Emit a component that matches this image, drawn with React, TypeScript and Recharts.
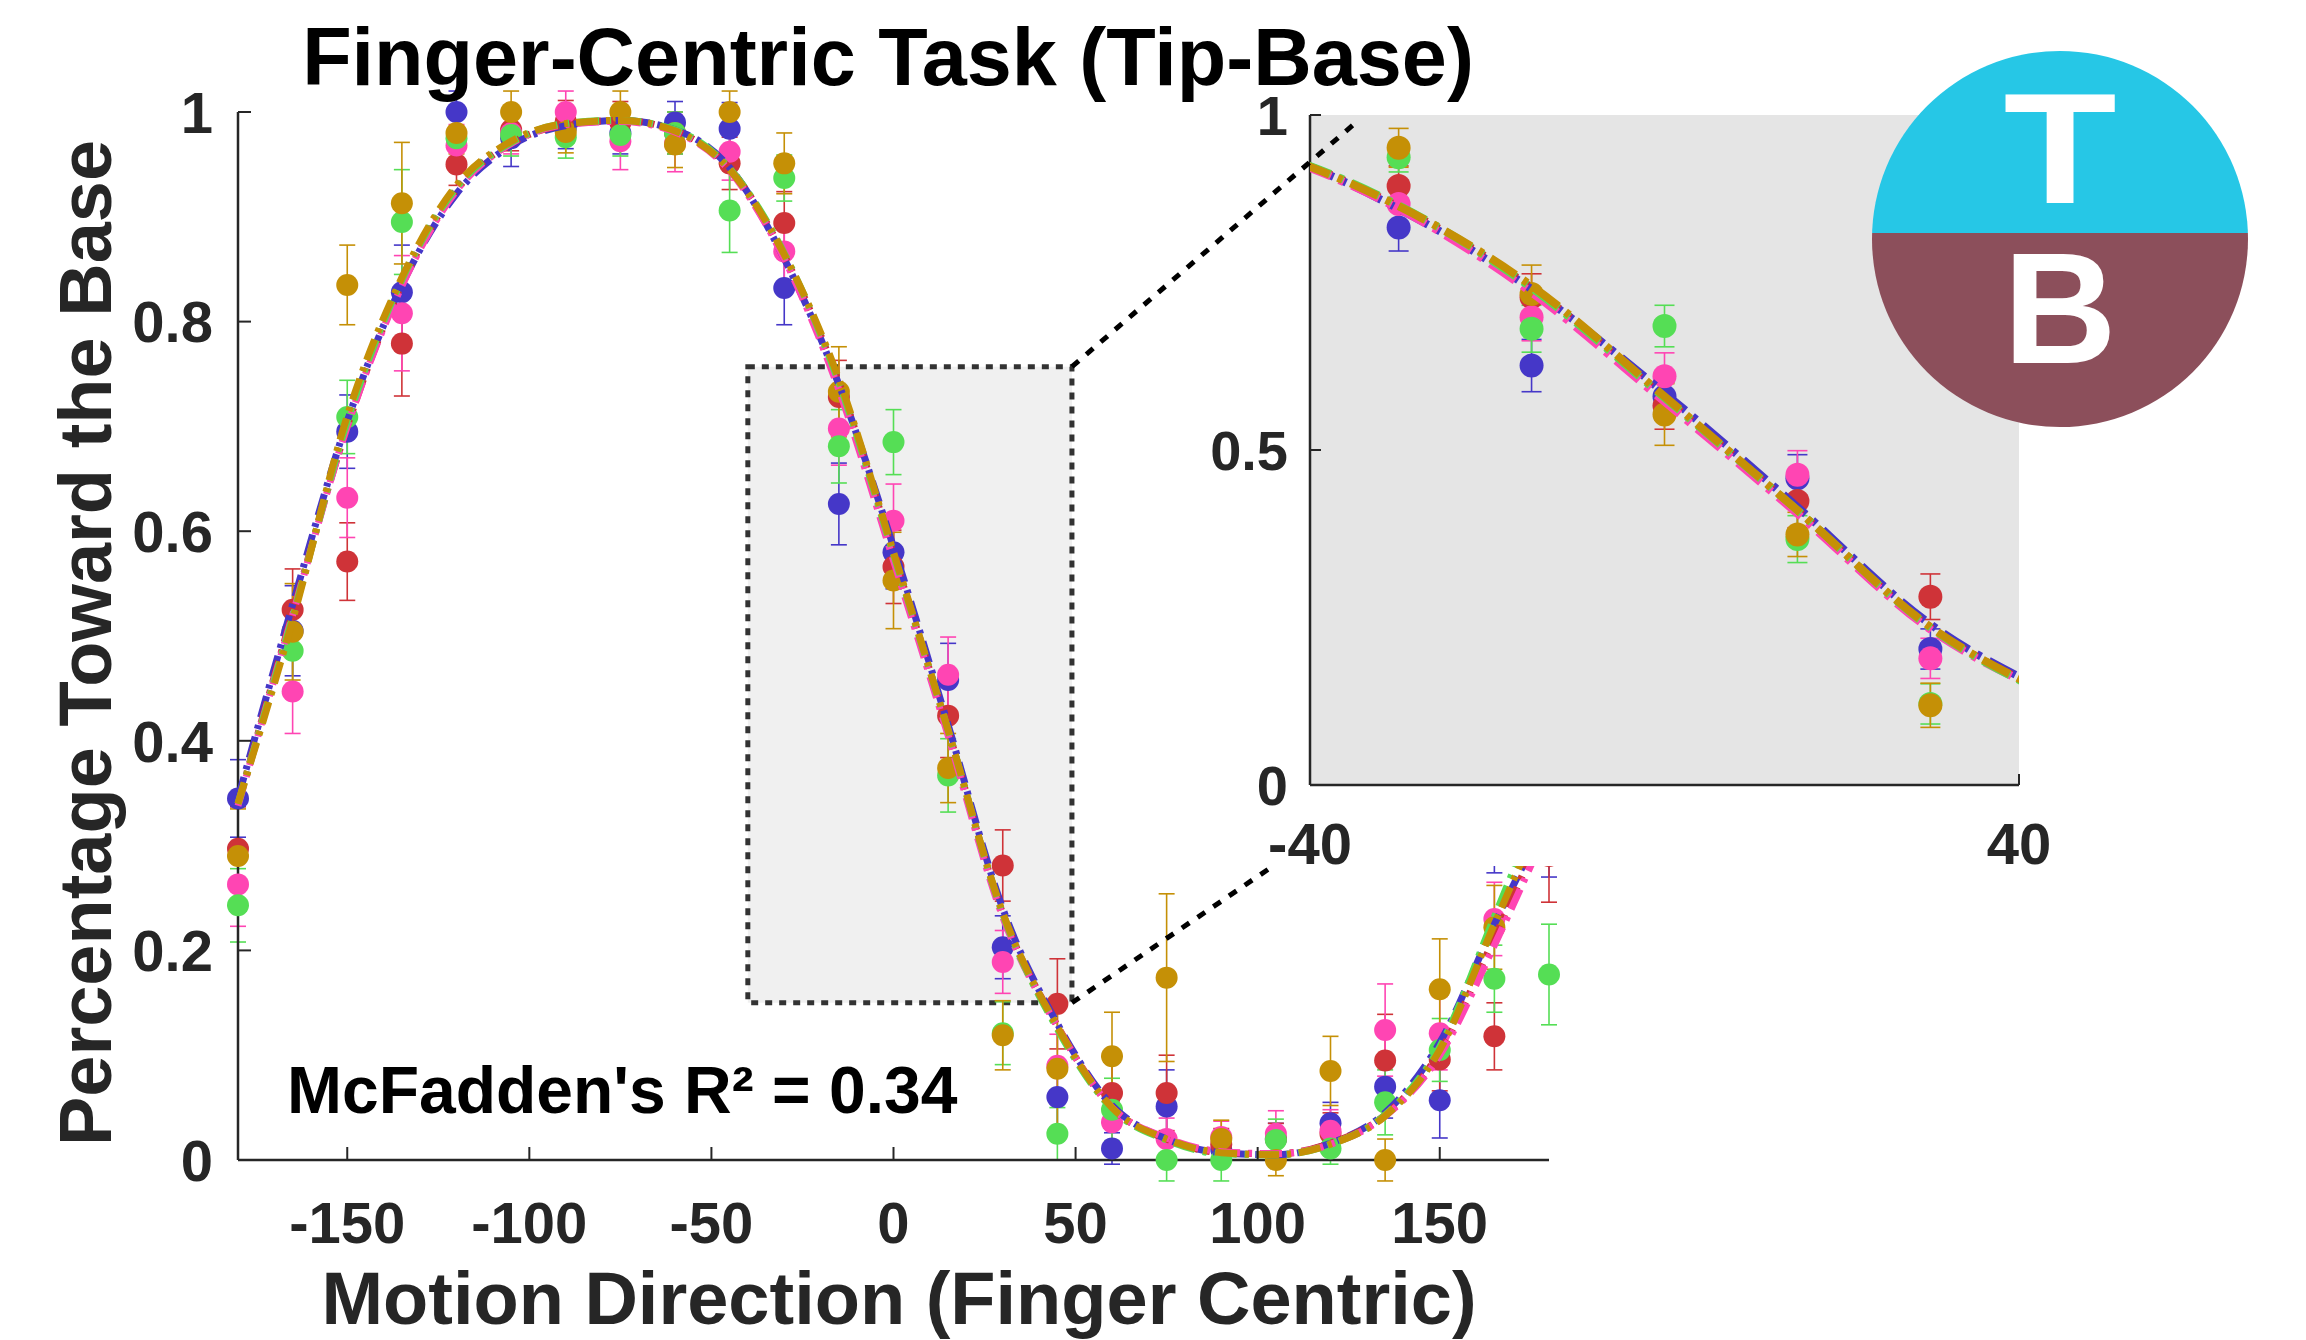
import React from 'react';
import {
  ComposedChart, Scatter, Line, XAxis, YAxis, ErrorBar,
  ReferenceArea, ReferenceLine, CartesianGrid,
} from 'recharts';

// ---------- data ----------
const angles = [-180, -165, -150, -135, -120, -105, -90, -75, -60, -45, -30, -15, 0, 15, 30, 45, 60, 75, 90, 105, 120, 135, 150, 165, 180];

const blueObs  = [0.345, 0.505, 0.695, 0.828, 1.0, 0.975, 0.985, 0.98, 0.99, 0.984, 0.832, 0.626, 0.58, 0.458, 0.203, 0.06, 0.011, 0.051, 0.01, 0.02, 0.035, 0.07, 0.057, 0.31, 0.31];
const redObs   = [0.297, 0.525, 0.571, 0.779, 0.95, 0.983, 0.991, 0.99, 0.98, 0.951, 0.894, 0.728, 0.566, 0.424, 0.281, 0.149, 0.064, 0.064, 0.015, 0.02, 0.025, 0.095, 0.096, 0.118, 0.29];
const pinkObs  = [0.263, 0.447, 0.632, 0.808, 0.968, 0.98, 1.0, 0.972, 0.97, 0.962, 0.867, 0.698, 0.61, 0.463, 0.189, 0.09, 0.036, 0.02, 0.022, 0.025, 0.028, 0.124, 0.121, 0.23, 0.34];
const greenObs = [0.243, 0.486, 0.709, 0.895, 0.975, 0.978, 0.976, 0.978, 0.98, 0.906, 0.937, 0.681, 0.685, 0.367, 0.121, 0.025, 0.048, 0.0, 0.0, 0.019, 0.011, 0.055, 0.105, 0.173, 0.177];
const goldObs  = [0.29, 0.504, 0.835, 0.913, 0.98, 1.0, 0.981, 1.0, 0.969, 1.0, 0.951, 0.733, 0.553, 0.374, 0.119, 0.087, 0.099, 0.174, 0.02, 0.0, 0.085, 0.0, 0.163, 0.222, 0.35];

const blueErr  = [0.037, 0.043, 0.035, 0.045, 0.02, 0.027, 0.02, 0.02, 0.02, 0.025, 0.035, 0.039, 0.035, 0.035, 0.03, 0.03, 0.015, 0.035, 0.01, 0.015, 0.02, 0.03, 0.036, 0.036, 0.04];
const redErr   = [0.04, 0.039, 0.037, 0.05, 0.02, 0.02, 0.02, 0.02, 0.02, 0.025, 0.03, 0.035, 0.035, 0.04, 0.034, 0.043, 0.03, 0.036, 0.015, 0.015, 0.02, 0.044, 0.03, 0.032, 0.044];
const pinkErr  = [0.04, 0.04, 0.038, 0.055, 0.02, 0.02, 0.02, 0.027, 0.027, 0.027, 0.03, 0.035, 0.035, 0.036, 0.03, 0.03, 0.02, 0.02, 0.015, 0.022, 0.02, 0.044, 0.035, 0.035, 0.04];
const greenErr = [0.035, 0.04, 0.035, 0.05, 0.02, 0.02, 0.02, 0.02, 0.02, 0.04, 0.022, 0.035, 0.031, 0.035, 0.03, 0.025, 0.03, 0.02, 0.02, 0.02, 0.015, 0.031, 0.03, 0.032, 0.048];
const goldErr  = [0.045, 0.046, 0.038, 0.058, 0.02, 0.02, 0.02, 0.02, 0.022, 0.02, 0.029, 0.043, 0.046, 0.033, 0.033, 0.056, 0.042, 0.08, 0.018, 0.015, 0.033, 0.02, 0.048, 0.04, 0.04];

const blueFit  = [0.345, 0.53, 0.705, 0.835, 0.922, 0.968, 0.987, 0.992, 0.983, 0.947, 0.86, 0.74, 0.585, 0.415, 0.24, 0.13, 0.052, 0.02, 0.007, 0.005, 0.016, 0.045, 0.112, 0.225, 0.33];
const redFit   = [0.34, 0.522, 0.7, 0.836, 0.926, 0.97, 0.988, 0.992, 0.982, 0.946, 0.863, 0.742, 0.578, 0.41, 0.235, 0.128, 0.05, 0.02, 0.007, 0.006, 0.016, 0.043, 0.103, 0.212, 0.33];
const pinkFit  = [0.338, 0.52, 0.7, 0.834, 0.925, 0.97, 0.988, 0.991, 0.981, 0.944, 0.86, 0.735, 0.572, 0.405, 0.232, 0.127, 0.05, 0.021, 0.008, 0.006, 0.015, 0.042, 0.1, 0.205, 0.32];
const greenFit = [0.34, 0.518, 0.705, 0.84, 0.928, 0.971, 0.989, 0.992, 0.983, 0.946, 0.865, 0.742, 0.578, 0.41, 0.235, 0.125, 0.049, 0.019, 0.006, 0.005, 0.015, 0.043, 0.108, 0.232, 0.36];
const goldFit  = [0.34, 0.515, 0.71, 0.842, 0.93, 0.972, 0.989, 0.992, 0.982, 0.945, 0.864, 0.745, 0.58, 0.41, 0.236, 0.127, 0.05, 0.02, 0.007, 0.005, 0.015, 0.042, 0.105, 0.225, 0.345];

const mainXTicks = [-150, -100, -50, 0, 50, 100, 150];
const mainYTicks = [0, 0.2, 0.4, 0.6, 0.8, 1];
const insetXTicks = [-40, 40];
const insetYTicks = [0, 0.5, 1];
const insetRange = [-40, 40];

const zoomBox = { x1: -40, x2: 49, y1: 0.15, y2: 0.757 };
const connectorTop = [{ x: 49, y: 0.757 }, { x: 127, y: 0.99 }];
const connectorBottom = [{ x: 49, y: 0.15 }, { x: 104, y: 0.28 }];

const titleText = 'Finger-Centric Task (Tip-Base)';
const xLabelText = 'Motion Direction (Finger Centric)';
const yLabelText = 'Percentage Toward the Base';
const r2Text = "McFadden's R\u00B2 = 0.34";

// ---------- styling ----------
const FONT = "'Liberation Sans', Arial, Helvetica, sans-serif";
const AXIS = '#262626';
const series = [
  { key: 'blue', color: '#4537C8' },
  { key: 'red', color: '#CF3338' },
  { key: 'pink', color: '#FF45B3' },
  { key: 'green', color: '#55DE55' },
  { key: 'gold', color: '#C59006' },
];

const rows = angles.map((x, i) => ({
  x,
  blue: blueObs[i], red: redObs[i], pink: pinkObs[i], green: greenObs[i], gold: goldObs[i],
  blueErr: blueErr[i], redErr: redErr[i], pinkErr: pinkErr[i], greenErr: greenErr[i], goldErr: goldErr[i],
  blueFit: blueFit[i], redFit: redFit[i], pinkFit: pinkFit[i], greenFit: greenFit[i], goldFit: goldFit[i],
}));
const insetRows = rows.filter((r) => r.x >= insetRange[0] && r.x <= insetRange[1]);

const makeXTick = (labelDy: number, tickLen: number, fs: number) => (props: any) => {
  const { x, y, payload } = props;
  return (
    <g>
      <line x1={x} x2={x} y1={y} y2={y - tickLen} stroke={AXIS} strokeWidth={2} />
      <text x={x} y={y + labelDy} textAnchor="middle" fontSize={fs} fontWeight="bold" fontFamily={FONT} fill={AXIS}>
        {String(payload.value)}
      </text>
    </g>
  );
};
const makeYTick = (gap: number, tickLen: number, fs: number) => (props: any) => {
  const { x, y, payload } = props;
  return (
    <g>
      <line x1={x} x2={x + tickLen} y1={y} y2={y} stroke={AXIS} strokeWidth={2} />
      <text x={x - gap} y={y + fs * 0.36} textAnchor="end" fontSize={fs} fontWeight="bold" fontFamily={FONT} fill={AXIS}>
        {String(payload.value)}
      </text>
    </g>
  );
};

const dotShape = (color: string, r: number) => (p: any) =>
  p.cx == null || p.cy == null ? <g /> : <circle cx={p.cx} cy={p.cy} r={r} fill={color} />;

function renderSeries(r: number, lw: number, dash: string, errW: number, scatterData?: any[]) {
  const out: any[] = [];
  series.forEach((s) => {
    out.push(
      <Scatter key={s.key + 's'} data={scatterData} dataKey={s.key} fill={s.color} shape={dotShape(s.color, r)} isAnimationActive={false}>
        <ErrorBar dataKey={s.key + 'Err'} direction="y" width={errW} stroke={s.color} strokeWidth={1.6} />
      </Scatter>
    );
  });
  series.forEach((s) => {
    out.push(
      <Line key={s.key + 'l'} dataKey={s.key + 'Fit'} type="monotone" stroke={s.color} strokeWidth={lw}
        strokeDasharray={dash} dot={false} activeDot={false} isAnimationActive={false} zIndex={700} />
    );
  });
  return out;
}

function MainChart() {
  return (
    <ComposedChart width={2306} height={1340} data={rows} margin={{ top: 112, right: 757, bottom: 0, left: 0 }}>
      <ReferenceArea x1={zoomBox.x1} x2={zoomBox.x2} y1={zoomBox.y1} y2={zoomBox.y2} fill="#f0f0f0" fillOpacity={1}
        stroke="#333333" strokeWidth={5} strokeDasharray="7 7" zIndex={-10} />
      <XAxis dataKey="x" type="number" domain={[-180, 180]} allowDataOverflow ticks={mainXTicks} interval={0} height={180}
        tickSize={0} tickMargin={0} tickLine={false} axisLine={{ stroke: AXIS, strokeWidth: 2.5 }}
        tick={makeXTick(83, 13, 58)} />
      <YAxis type="number" domain={[0, 1]} allowDataOverflow ticks={mainYTicks} interval={0} width={238}
        tickSize={0} tickMargin={0} tickLine={false} axisLine={{ stroke: AXIS, strokeWidth: 2.5 }}
        tick={makeYTick(25, 13, 58)} />
      {renderSeries(11, 7, '22 8 4 8', 8)}
    </ComposedChart>
  );
}

function InsetChart() {
  return (
    <ComposedChart width={1116} height={860} data={rows} margin={{ top: 55, right: 287, bottom: 0, left: 0 }}>
      <CartesianGrid horizontal={false} vertical={false} fill="#e5e5e5" fillOpacity={1} />
      <XAxis dataKey="x" type="number" domain={insetRange} allowDataOverflow ticks={insetXTicks} interval={0} height={135}
        tickSize={0} tickMargin={0} tickLine={false} axisLine={{ stroke: AXIS, strokeWidth: 2.5 }}
        tick={makeXTick(79, 11, 58)} />
      <YAxis type="number" domain={[0, 1]} allowDataOverflow ticks={insetYTicks} interval={0} width={120}
        tickSize={0} tickMargin={0} tickLine={false} axisLine={{ stroke: AXIS, strokeWidth: 2.5 }}
        tick={makeYTick(22, 11, 56)} />
      {renderSeries(12, 8, '30 9 5 9', 10, insetRows)}
    </ComposedChart>
  );
}

function ConnectorChart() {
  return (
    <ComposedChart width={2306} height={1340} data={rows} margin={{ top: 112, right: 757, bottom: 0, left: 0 }}>
      <XAxis dataKey="x" type="number" domain={[-180, 180]} allowDataOverflow height={180} axisLine={false} tickLine={false} tick={false} />
      <YAxis type="number" domain={[0, 1]} allowDataOverflow width={238} axisLine={false} tickLine={false} tick={false} />
      <Line dataKey="blueFit" stroke="none" strokeOpacity={0} dot={false} activeDot={false} isAnimationActive={false} />
      <ReferenceLine segment={connectorTop} stroke="#000" strokeWidth={5} strokeDasharray="9 10" ifOverflow="visible" />
      <ReferenceLine segment={connectorBottom} stroke="#000" strokeWidth={5} strokeDasharray="9 10" ifOverflow="visible" />
    </ComposedChart>
  );
}

function Overlay() {
  const cx = 2060, cy = 239, r = 188, split = 233;
  return (
    <svg width={2306} height={1340} style={{ position: 'absolute', left: 0, top: 0, pointerEvents: 'none' }}>
      <defs>
        <clipPath id="logoClip"><circle cx={cx} cy={cy} r={r} /></clipPath>
      </defs>
      <g clipPath="url(#logoClip)">
        <rect x={cx - r} y={cy - r} width={2 * r} height={split - (cy - r)} fill="#26C7E6" />
        <rect x={cx - r} y={split} width={2 * r} height={cy + r - split} fill="#8C4F5B" />
      </g>
      <text transform={`translate(${cx},203) scale(1.18,1)`} textAnchor="middle" fontSize={157} fontWeight="bold" fontFamily={FONT} fill="#fff">T</text>
      <text x={cx} y={363} textAnchor="middle" fontSize={157} fontWeight="bold" fontFamily={FONT} fill="#fff">B</text>

      <text x={888} y={85} textAnchor="middle" fontSize={81} fontWeight="bold" fontFamily={FONT} fill="#000">{titleText}</text>
      <text x={899} y={1324} textAnchor="middle" fontSize={74} fontWeight="bold" fontFamily={FONT} fill={AXIS}>{xLabelText}</text>
      <text transform="translate(111,643) rotate(-90)" textAnchor="middle" fontSize={74} fontWeight="bold" fontFamily={FONT} fill={AXIS}>{yLabelText}</text>
      <text x={287} y={1113} fontSize={66} fontWeight="bold" fontFamily={FONT} fill="#000">{r2Text}</text>
    </svg>
  );
}

export default function App() {
  return (
    <div style={{ position: 'absolute', left: 0, top: 0, width: 2306, height: 1340, background: '#fff', overflow: 'hidden' }}>
      <style>{`.mainwrap [clip-path] { clip-path: none !important; }`}</style>
      <div className="mainwrap" style={{ position: 'absolute', left: 0, top: 0 }}><MainChart /></div>
      <div style={{ position: 'absolute', left: 1190, top: 60, width: 1116, height: 806, background: '#fff' }} />
      <div style={{ position: 'absolute', left: 1190, top: 60 }}><InsetChart /></div>
      <div style={{ position: 'absolute', left: 0, top: 0, pointerEvents: 'none' }}><ConnectorChart /></div>
      <Overlay />
    </div>
  );
}
